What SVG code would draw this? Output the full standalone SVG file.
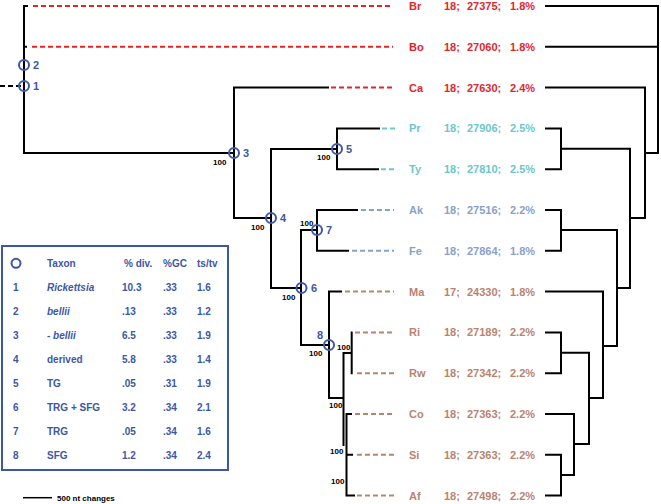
<svg xmlns="http://www.w3.org/2000/svg" width="661" height="504" viewBox="0 0 661 504">
<style>
.br{stroke:#000;stroke-width:2;fill:none;stroke-linecap:square}
.d{stroke-width:2;fill:none;stroke-dasharray:5 3}
.red{stroke:#e2262c}.cy{stroke:#6cc7c9}.bl{stroke:#8aa0cc}.bn{stroke:#b9836f}
text{font-family:"Liberation Sans",Arial,sans-serif;font-weight:bold}
.lr{fill:#e2262c}.lc{fill:#6cc7c9}.lb{fill:#8aa0cc}.ln{fill:#b9836f}
.lab{font-size:11px}
.nd{fill:none;stroke:#3c57a4;stroke-width:2}
.nl{fill:#3c57a4;font-size:11px}
.bs{fill:#000;font-size:8px}
.lg{fill:#3c57a4;font-size:10px}
</style>
<rect width="661" height="504" fill="#fff"/>
<g id="connectors">
<!-- left tree -->
<path class="br" d="M24,6 H27 M24,6 V153 H234 M24,46.8 H26"/>
<path class="d" stroke="#000" d="M0,86 H22"/>
<path class="br" d="M234,87.6 V218 H271 M234,87.6 H328"/>
<path class="br" d="M271,149 V288 H301 M271,149 H337 M337,128.4 V169.2 M337,128.4 H379 M337,169.2 H378"/>
<path class="br" d="M301,230 V345 H329 M301,230 H317 M317,210 V250.8 M317,210 H357 M317,250.8 H348"/>
<path class="br" d="M329,291.6 V398 H343.5 M329,291.6 H341 M343.5,353 V445 M343.5,353 H351.7 M351.7,332.4 V373.2 M346.5,414 V495.6 M346.5,414 H351 M346.5,454.8 H352 M346.5,495.6 H354"/>
<path class="d red" d="M33,6 H392 M32,46.8 H393 M331,87.6 H393"/>
<path class="d cy" d="M382,128.4 H395 M381,169.2 H395"/>
<path class="d bl" d="M361,210 H394 M352,250.8 H394"/>
<path class="d bn" d="M345,291.6 H394 M355,332.4 H394 M357,373.2 H394 M355,414 H394 M357,454.8 H394 M357,495.6 H394"/>
<!-- right tree -->
<path class="br" d="M546,6 H658 V153 H645 M546,46.8 H658 M546,87.6 H645 V218 H630"/>
<path class="br" d="M546,128.4 H561 V169.2 H546 M561,148.7 H630 V288 H617"/>
<path class="br" d="M546,210 H561 V250.8 H546 M561,230 H617 V346 H603"/>
<path class="br" d="M546,291.6 H603 V398 H589"/>
<path class="br" d="M546,332.4 H561 V373.2 H546 M561,352.7 H589 V444 H574"/>
<path class="br" d="M546,414 H574 V475 H561 M546,454.8 H561 V495.6 H546"/>
<!-- scale bar -->
<path stroke="#000" stroke-width="1.5" d="M23,497.7 H52"/>
</g>
<g id="nodes">
<circle class="nd" cx="24" cy="86" r="5"/><text class="nl" x="33" y="90">1</text>
<circle class="nd" cx="24" cy="65" r="5"/><text class="nl" x="33" y="69">2</text>
<circle class="nd" cx="234" cy="153" r="5"/><text class="nl" x="243" y="157">3</text>
<text class="bs" x="213" y="165">100</text>
<circle class="nd" cx="271" cy="218" r="5"/><text class="nl" x="280" y="222">4</text>
<text class="bs" x="251" y="230">100</text>
<circle class="nd" cx="337" cy="149" r="5"/><text class="nl" x="346" y="153">5</text>
<text class="bs" x="317" y="160">100</text>
<circle class="nd" cx="301.5" cy="288" r="5"/><text class="nl" x="311" y="292">6</text>
<text class="bs" x="282" y="300">100</text>
<circle class="nd" cx="317" cy="230" r="5"/><text class="nl" x="326" y="234">7</text>
<text class="bs" x="300" y="226">100</text>
<circle class="nd" cx="329" cy="345" r="5"/><text class="nl" x="317" y="339">8</text>
<text class="bs" x="309" y="356">100</text>
<text class="bs" x="337" y="350">100</text>
<text class="bs" x="329" y="408">100</text>
<text class="bs" x="330" y="454">100</text>
<text class="bs" x="331" y="484">100</text>
</g>
<g id="labels" class="lab">
<text class="lr" y="10"><tspan x="409">Br</tspan><tspan x="444">18;</tspan><tspan x="467">27375;</tspan><tspan x="510">1.8%</tspan></text>
<text class="lr" y="50.8"><tspan x="409">Bo</tspan><tspan x="444">18;</tspan><tspan x="467">27060;</tspan><tspan x="510">1.8%</tspan></text>
<text class="lr" y="91.6"><tspan x="409">Ca</tspan><tspan x="444">18;</tspan><tspan x="467">27630;</tspan><tspan x="510">2.4%</tspan></text>
<text class="lc" y="132.4"><tspan x="409">Pr</tspan><tspan x="444">18;</tspan><tspan x="467">27906;</tspan><tspan x="510">2.5%</tspan></text>
<text class="lc" y="173.2"><tspan x="409">Ty</tspan><tspan x="444">18;</tspan><tspan x="467">27810;</tspan><tspan x="510">2.5%</tspan></text>
<text class="lb" y="214"><tspan x="409">Ak</tspan><tspan x="444">18;</tspan><tspan x="467">27516;</tspan><tspan x="510">2.2%</tspan></text>
<text class="lb" y="254.8"><tspan x="409">Fe</tspan><tspan x="444">18;</tspan><tspan x="467">27864;</tspan><tspan x="510">1.8%</tspan></text>
<text class="ln" y="295.6"><tspan x="409">Ma</tspan><tspan x="444">17;</tspan><tspan x="467">24330;</tspan><tspan x="510">1.8%</tspan></text>
<text class="ln" y="336.4"><tspan x="409">Ri</tspan><tspan x="444">18;</tspan><tspan x="467">27189;</tspan><tspan x="510">2.2%</tspan></text>
<text class="ln" y="377.2"><tspan x="409">Rw</tspan><tspan x="444">18;</tspan><tspan x="467">27342;</tspan><tspan x="510">2.2%</tspan></text>
<text class="ln" y="418"><tspan x="409">Co</tspan><tspan x="444">18;</tspan><tspan x="467">27363;</tspan><tspan x="510">2.2%</tspan></text>
<text class="ln" y="458.8"><tspan x="409">Si</tspan><tspan x="444">18;</tspan><tspan x="467">27363;</tspan><tspan x="510">2.2%</tspan></text>
<text class="ln" y="499.6"><tspan x="409">Af</tspan><tspan x="444">18;</tspan><tspan x="467">27498;</tspan><tspan x="510">2.2%</tspan></text>
</g>
<g id="legend">
<rect x="2" y="246" width="226" height="224" fill="#fff" stroke="#3c57a4" stroke-width="2"/>
<circle class="nd" cx="16" cy="263.3" r="4.5"/>
<text class="lg" y="267"><tspan x="47">Taxon</tspan><tspan x="124">% div.</tspan><tspan x="163">%GC</tspan><tspan x="197">ts/tv</tspan></text>
<text class="lg" y="291.3"><tspan x="13">1</tspan><tspan x="47" font-style="italic">Rickettsia</tspan><tspan x="122">10.3</tspan><tspan x="163">.33</tspan><tspan x="197">1.6</tspan></text>
<text class="lg" y="315.3"><tspan x="13">2</tspan><tspan x="47" font-style="italic">bellii</tspan><tspan x="122">.13</tspan><tspan x="163">.33</tspan><tspan x="197">1.2</tspan></text>
<text class="lg" y="339.3"><tspan x="13">3</tspan><tspan x="47">- </tspan><tspan font-style="italic">bellii</tspan><tspan x="122">6.5</tspan><tspan x="163">.33</tspan><tspan x="197">1.9</tspan></text>
<text class="lg" y="363.3"><tspan x="13">4</tspan><tspan x="47">derived</tspan><tspan x="122">5.8</tspan><tspan x="163">.33</tspan><tspan x="197">1.4</tspan></text>
<text class="lg" y="387.3"><tspan x="13">5</tspan><tspan x="47">TG</tspan><tspan x="122">.05</tspan><tspan x="163">.31</tspan><tspan x="197">1.9</tspan></text>
<text class="lg" y="411.3"><tspan x="13">6</tspan><tspan x="47">TRG + SFG</tspan><tspan x="122">3.2</tspan><tspan x="163">.34</tspan><tspan x="197">2.1</tspan></text>
<text class="lg" y="435.3"><tspan x="13">7</tspan><tspan x="47">TRG</tspan><tspan x="122">.05</tspan><tspan x="163">.34</tspan><tspan x="197">1.6</tspan></text>
<text class="lg" y="459.3"><tspan x="13">8</tspan><tspan x="47">SFG</tspan><tspan x="122">1.2</tspan><tspan x="163">.34</tspan><tspan x="197">2.4</tspan></text>
</g>
<text class="bs" x="57" y="500.5" font-size="8.5">500 nt changes</text>
</svg>
